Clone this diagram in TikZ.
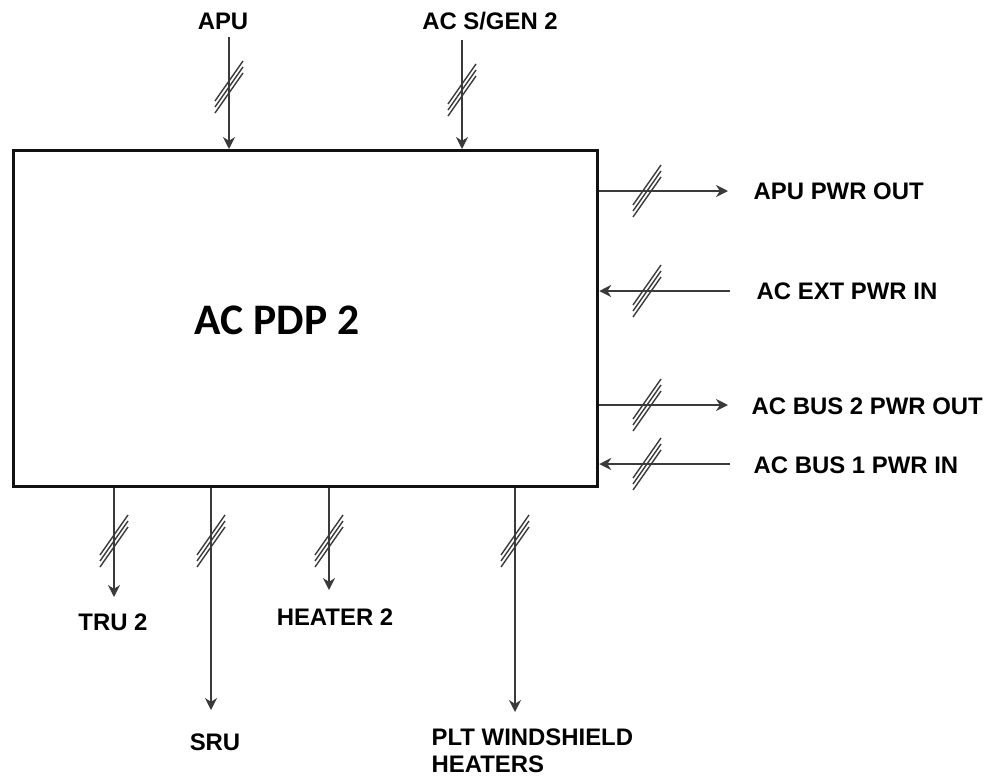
\documentclass[tikz,border=0pt]{standalone}
\usepackage{fontspec}
\setmainfont{Liberation Sans}
\newfontfamily\titlefont{Carlito}
\usetikzlibrary{arrows.meta}
\definecolor{wiregray}{HTML}{3A3A3A}
\definecolor{boxblack}{HTML}{111111}
\tikzset{
  lbl/.style={font=\bfseries\fontsize{17}{19}\selectfont,inner sep=1pt},
  wire/.style={wiregray,line width=1.4pt},
  feed/.style={wire,-{Stealth[length=3mm,width=3mm]}},
  hatchline/.style={wiregray,line width=1pt},
  hatch/.pic={\foreach \d in {-6,0,6} \draw[hatchline] (-14,20+\d)--(14,-20+\d);}
}

\begin{document}
\begin{tikzpicture}[x=0.025cm,y=-0.025cm]
\useasboundingbox (0,0) rectangle (994,778);
\node[draw=boxblack,line width=2.2pt,minimum width=14.6cm,minimum height=8.4cm,anchor=north west] (pdp) at (12,149) {};
\node[font=\titlefont\bfseries\fontsize{31}{36}\selectfont] (title) at (277,320) {AC PDP 2};
% inputs from the top
\coordinate (apuend) at (229,37); \coordinate (genend) at (462,40);
\node[lbl] (apu) at (223,21) {APU};
\node[lbl] (gen) at (490,21) {AC S/GEN 2};
\draw[feed] (apuend)--(apuend |- pdp.north);
\draw[feed] (genend)--(genend |- pdp.north);
\pic at (229,87) {hatch}; \pic at (462,90) {hatch};
% right side
\coordinate (apuout) at (728,191); \coordinate (extin) at (730,291);
\coordinate (bus2out) at (728,405); \coordinate (bus1in) at (730,464);
\node[lbl,anchor=west] (apupwr) at (752,191) {APU PWR OUT};
\node[lbl,anchor=west] (extpwr) at (755,291) {AC EXT PWR IN};
\node[lbl,anchor=west] (bus2pwr) at (750,406) {AC BUS 2 PWR OUT};
\node[lbl,anchor=west] (bus1pwr) at (752,465) {AC BUS 1 PWR IN};
\draw[feed] (apuout -| pdp.east)--(apuout);
\draw[feed] (extin)--(extin -| pdp.east);
\draw[feed] (bus2out -| pdp.east)--(bus2out);
\draw[feed] (bus1in)--(bus1in -| pdp.east);
\foreach \y in {191,291,405,464} \pic at (647,\y) {hatch};
% loads at the bottom
\coordinate (truend) at (114,597); \coordinate (sruend) at (211,710);
\coordinate (htrend) at (329,590); \coordinate (pltend) at (515,712);
\node[lbl] (tru) at (113,622) {TRU 2};
\node[lbl] (sru) at (215,742) {SRU};
\node[lbl] (htr) at (335,617) {HEATER 2};
\node[lbl,anchor=north west,align=left] (plt) at (430,727) {PLT WINDSHIELD\\HEATERS};
\foreach \e in {truend,sruend,htrend,pltend} \draw[feed] (\e |- pdp.south)--(\e);
\foreach \x in {114,211,329,515} \pic at (\x,541) {hatch};
\end{tikzpicture}
\end{document}
